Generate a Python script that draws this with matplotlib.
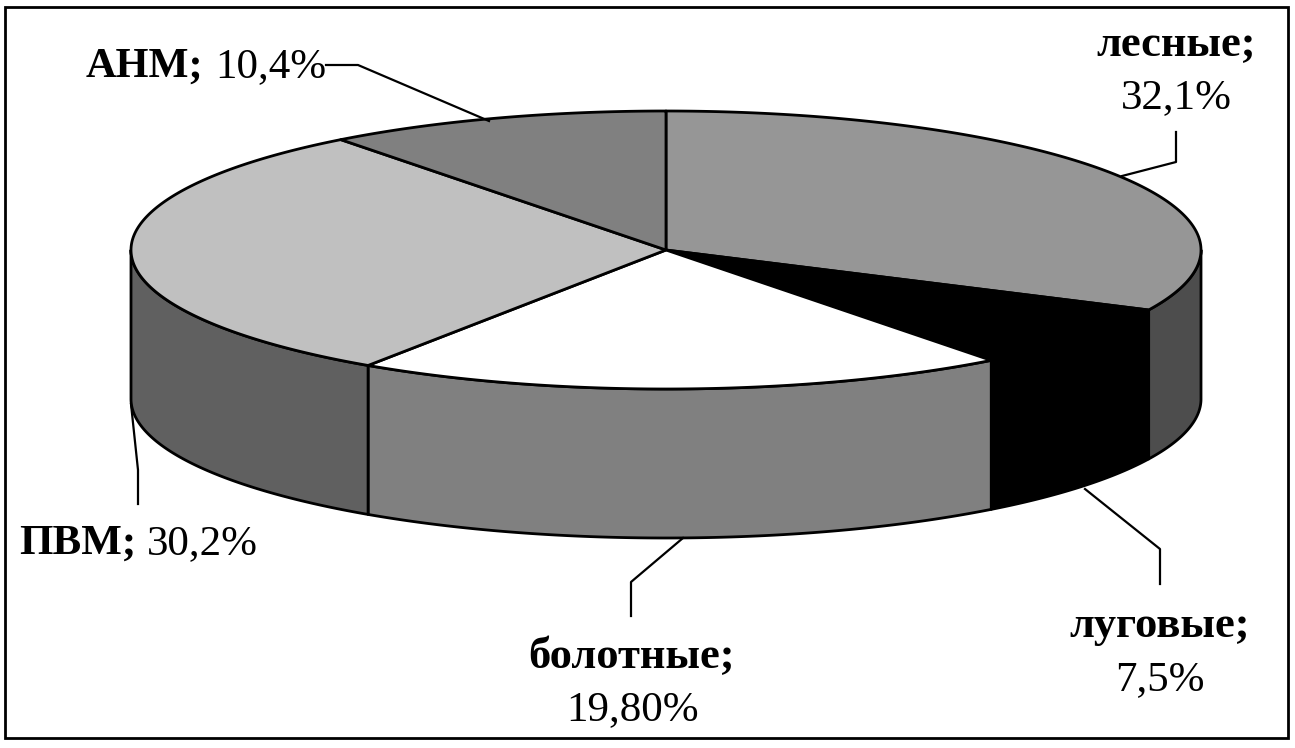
import matplotlib
matplotlib.use("Agg")
import matplotlib.pyplot as plt
import numpy as np
from matplotlib.patches import Polygon, Rectangle

plt.rcParams['font.family'] = ['Liberation Serif', 'DejaVu Serif']

categories = ['лесные', 'луговые', 'болотные', 'ПВМ', 'АНМ']
values = [32.1, 7.5, 19.8, 30.2, 10.4]
value_labels = ['32,1%', '7,5%', '19,80%', '30,2%', '10,4%']
top_colors = ['#969696', '#000000', '#ffffff', '#c0c0c0', '#808080']
side_colors = ['#4d4d4d', '#000000', '#808080', '#606060', '#808080']

# pie geometry in pixels
cx, cy = 666, 250
rx, ry = 535, 139
depth = 149


def ellipse_pts(a, b, dy=0):
    # angles in degrees, clockwise from the top
    t = np.radians(np.linspace(a, b, 200))
    return np.column_stack([cx + rx * np.sin(t), cy - ry * np.cos(t) + dy])


fig = plt.figure(figsize=(12.95, 7.48), dpi=100)
ax = fig.add_axes([0, 0, 1, 1])
ax.set_xlim(0, 1295)
ax.set_ylim(748, 0)
ax.axis('off')

ax.add_patch(Rectangle((5, 7), 1283, 731, fill=False, ec='black', lw=2))

edges = np.cumsum([0] + values) / sum(values) * 360

# side walls, only the front half of the rim shows
for i in range(len(values)):
    a = max(edges[i], 90)
    b = min(edges[i + 1], 270)
    if a >= b:
        continue
    upper = ellipse_pts(a, b)
    lower = ellipse_pts(a, b, depth)[::-1]
    ax.add_patch(Polygon(np.vstack([upper, lower]), fc=side_colors[i], ec='black', lw=2, joinstyle='round'))

# top face
for i in range(len(values)):
    arc = ellipse_pts(edges[i], edges[i + 1])
    ax.add_patch(Polygon(np.vstack([[cx, cy], arc]), fc=top_colors[i], ec='black', lw=2, joinstyle='round'))

# leader lines
leaders = [
    [(1122, 176), (1176, 162), (1176, 132)],
    [(1085, 489), (1160, 549), (1160, 584)],
    [(683, 538), (631, 582), (631, 616)],
    [(131, 404), (138, 470), (138, 504)],
    [(489, 121), (358, 65), (326, 65)],
]
for pts in leaders:
    xs, ys = zip(*pts)
    ax.plot(xs, ys, color='black', lw=1.6)

fs_b = 32
fs = 31
# two-line labels
ax.text(1176, 45, categories[0] + ';', ha='center', va='center', fontsize=fs_b, fontweight='bold')
ax.text(1176, 98, value_labels[0], ha='center', va='center', fontsize=fs)
ax.text(1160, 626, categories[1] + ';', ha='center', va='center', fontsize=fs_b, fontweight='bold')
ax.text(1160, 680, value_labels[1], ha='center', va='center', fontsize=fs)
ax.text(631, 657, categories[2] + ';', ha='center', va='center', fontsize=fs_b, fontweight='bold')
ax.text(633, 710, value_labels[2], ha='center', va='center', fontsize=fs)
# one-line labels
ax.text(136, 544, categories[3] + ';', ha='right', va='center', fontsize=31, fontweight='bold')
ax.text(147, 544, value_labels[3], ha='left', va='center', fontsize=fs)
ax.text(203, 67, categories[4] + ';', ha='right', va='center', fontsize=30.5, fontweight='bold')
ax.text(215, 67, value_labels[4], ha='left', va='center', fontsize=fs)

fig.savefig('out.png', dpi=100)
